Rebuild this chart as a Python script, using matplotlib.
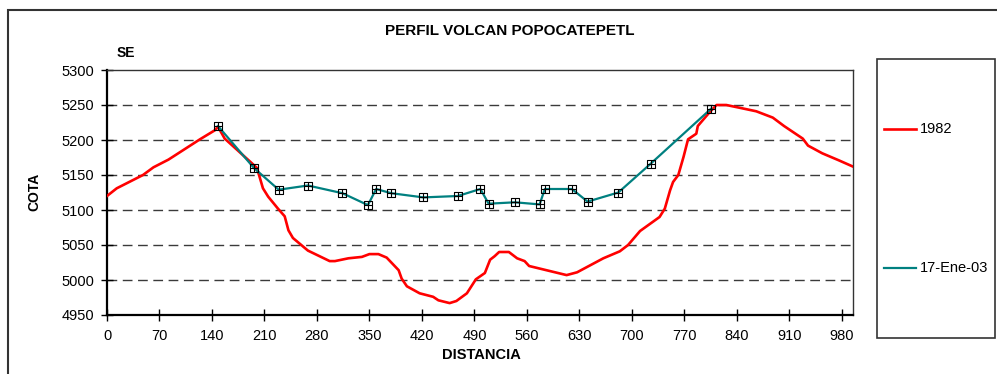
import matplotlib
matplotlib.use("Agg")
import matplotlib.pyplot as plt
from matplotlib.path import Path
from matplotlib.patches import Rectangle
from matplotlib.lines import Line2D

plt.rcParams['font.family'] = ['Liberation Sans', 'DejaVu Sans']

# Profile surveyed in 1982: distance (m) and elevation (m)
dist_1982 = [0, 13, 48, 62, 82, 124, 144, 148, 157, 193, 200, 208, 215, 228, 237,
             242, 248, 268, 297, 304, 322, 340, 350, 362, 373, 389, 393, 400, 417,
             435, 442, 457, 466, 480, 492, 504, 511, 517, 523, 536, 547, 557, 563,
             613, 627, 662, 684, 695, 711, 737, 744, 751, 755, 762, 769, 775, 786,
             788, 804, 813, 826, 844, 866, 888, 903, 928, 935, 954, 976, 995]
cota_1982 = [5120, 5131, 5150, 5161, 5172, 5201, 5214, 5219, 5202, 5167, 5160, 5131,
             5119, 5102, 5091, 5071, 5060, 5042, 5027, 5027, 5031, 5033, 5037, 5037,
             5032, 5014, 5002, 4991, 4981, 4976, 4971, 4967, 4970, 4981, 5001, 5010,
             5029, 5034, 5040, 5040, 5031, 5027, 5020, 5007, 5011, 5031, 5041, 5050,
             5070, 5090, 5102, 5128, 5140, 5150, 5176, 5201, 5209, 5220, 5240, 5250,
             5250, 5246, 5241, 5232, 5220, 5202, 5192, 5181, 5171, 5162]

# Profile surveyed on 17 January 2003
dist_2003 = [148, 196, 229, 268, 314, 348, 359, 379, 422, 468, 498, 509, 544, 577,
             584, 620, 641, 682, 725, 806]
cota_2003 = [5220, 5160, 5129, 5135, 5124, 5107, 5130, 5124, 5118, 5120, 5130, 5109,
             5111, 5108, 5130, 5130, 5112, 5125, 5166, 5245]

x_ticks = list(range(0, 981, 70))
y_ticks = list(range(4950, 5301, 50))

RED = '#FF0000'
TEAL = '#008080'

# square-with-cross marker
square_cross = Path(
    [(-1, -1), (1, -1), (1, 1), (-1, 1), (-1, -1),
     (-1, 0), (1, 0), (0, -1), (0, 1)],
    [Path.MOVETO, Path.LINETO, Path.LINETO, Path.LINETO, Path.CLOSEPOLY,
     Path.MOVETO, Path.LINETO, Path.MOVETO, Path.LINETO])

W, H = 997, 374
fig = plt.figure(figsize=(W / 100, H / 100), dpi=100)
ax = fig.add_axes([107 / W, 1 - 315 / H, (853 - 107) / W, (315 - 70) / H])

line_1982, = ax.plot(dist_1982, cota_1982, color=RED, lw=1.9, zorder=3)
line_2003, = ax.plot(dist_2003, cota_2003, color=TEAL, lw=1.6, zorder=4,
                     marker=square_cross, markersize=6.2, markerfacecolor='none',
                     markeredgecolor='black', markeredgewidth=0.8)

ax.set_xlim(0, 995)
ax.set_ylim(4950, 5300)
ax.set_xticks(x_ticks)
ax.set_yticks(y_ticks)
ax.set_xticklabels([str(v) for v in x_ticks], fontsize=10.5)
ax.set_yticklabels([str(v) for v in y_ticks], fontsize=10.5)
ax.tick_params(axis='both', direction='inout', length=8, width=1, color='black')
ax.tick_params(axis='x', pad=6)
ax.tick_params(axis='y', pad=5)

for y in y_ticks[1:-1]:
    ax.axhline(y, color='#3a3a3a', lw=1.0, dashes=(7, 4), zorder=1)

for side in ('left', 'bottom'):
    ax.spines[side].set_linewidth(1.6)
    ax.spines[side].set_color('black')
for side in ('top', 'right'):
    ax.spines[side].set_linewidth(1.0)
    ax.spines[side].set_color('#333333')

fig.text(510 / W, 1 - 31 / H, 'PERFIL VOLCAN POPOCATEPETL', ha='center', va='center',
         fontsize=11, fontweight='bold')
fig.text(126 / W, 1 - 53 / H, 'SE', ha='center', va='center',
         fontsize=10, fontweight='bold')
fig.text(481 / W, 1 - 355 / H, 'DISTANCIA', ha='center', va='center',
         fontsize=10.5, fontweight='bold')
fig.text(34 / W, 1 - 192 / H, 'COTA', ha='center', va='center', rotation=90,
         fontsize=10, fontweight='bold')

# chart area frame
fig.add_artist(Rectangle((8 / W, -0.1), 1.2, 1.1 - 10 / H, transform=fig.transFigure,
                         fill=False, edgecolor='#333333', lw=1.5))

# legend box
fig.add_artist(Rectangle((877 / W, 1 - 338 / H), (995 - 877) / W, (338 - 59) / H,
                         transform=fig.transFigure, fill=False,
                         edgecolor='#333333', lw=1.2))
for handle, label, ypix in ((line_1982, '1982', 129), (line_2003, '17-Ene-03', 268)):
    fy = 1 - ypix / H
    fig.add_artist(Line2D([884 / W, 916 / W], [fy, fy], transform=fig.transFigure,
                          color=handle.get_color(), lw=handle.get_linewidth()))
    fig.text(920 / W, fy, label, ha='left', va='center', fontsize=10.5)

fig.savefig('out.png', dpi=100)
